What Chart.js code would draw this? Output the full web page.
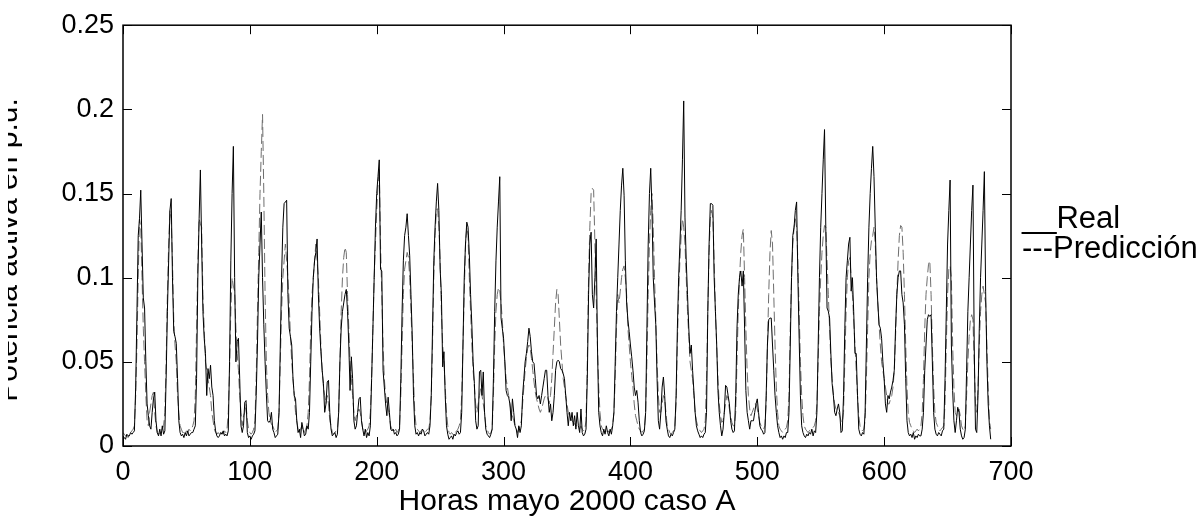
<!DOCTYPE html>
<html>
<head>
<meta charset="utf-8">
<script src="https://cdn.jsdelivr.net/npm/chart.js@4.4.1/dist/chart.umd.min.js"></script>
<style>
  html, body { margin: 0; padding: 0; background: #fff; }
  #wrap { width: 1203px; height: 521px; position: relative; }
</style>
</head>
<body>
<div id="wrap"><canvas id="chart"></canvas></div>
<script>
// Hourly values, May 2000, case A (hour 0 .. 684)
const realVals = [
  0.006, 0.005, 0.004, 0.007, 0.006, 0.006, 0.008, 0.007, 0.008, 0.009, // 0
  0.035, 0.08, 0.125, 0.135, 0.152, 0.12, 0.088, 0.082, 0.05, 0.025,
  0.018, 0.012, 0.01, 0.02, 0.028, 0.032, 0.015, 0.008, 0.006, 0.01,
  0.006, 0.012, 0.007, 0.009, 0.04, 0.08, 0.11, 0.14, 0.147, 0.1,
  0.068, 0.065, 0.061, 0.04, 0.015, 0.008, 0.006, 0.007, 0.005, 0.008,
  0.006, 0.009, 0.006, 0.007, 0.008, 0.008, 0.01, 0.012, 0.04, 0.1,
  0.135, 0.164, 0.12, 0.08, 0.064, 0.055, 0.03, 0.046, 0.04, 0.048,
  0.035, 0.03, 0.015, 0.009, 0.006, 0.005, 0.006, 0.008, 0.007, 0.009,
  0.006, 0.007, 0.006, 0.009, 0.05, 0.11, 0.15, 0.178, 0.1, 0.05,
  0.062, 0.064, 0.04, 0.012, 0.008, 0.012, 0.026, 0.027, 0.008, 0.005,
  0.006, 0.004, 0.006, 0.007, 0.009, 0.03, 0.06, 0.1, 0.12, 0.139, // 100
  0.1, 0.072, 0.05, 0.031, 0.015, 0.014, 0.015, 0.02, 0.01, 0.008,
  0.005, 0.006, 0.007, 0.02, 0.06, 0.1, 0.13, 0.144, 0.145, 0.146,
  0.09, 0.07, 0.065, 0.06, 0.04, 0.03, 0.028, 0.015, 0.008, 0.01,
  0.005, 0.014, 0.01, 0.006, 0.007, 0.012, 0.01, 0.02, 0.05, 0.08,
  0.1, 0.11, 0.115, 0.123, 0.09, 0.07, 0.056, 0.045, 0.037, 0.02,
  0.025, 0.038, 0.039, 0.02, 0.01, 0.006, 0.007, 0.008, 0.005, 0.007,
  0.02, 0.05, 0.07, 0.08, 0.085, 0.09, 0.093, 0.08, 0.06, 0.033,
  0.053, 0.04, 0.015, 0.01, 0.012, 0.02, 0.028, 0.029, 0.015, 0.01,
  0.006, 0.01, 0.005, 0.008, 0.006, 0.012, 0.04, 0.07, 0.1, 0.13,
  0.15, 0.16, 0.17, 0.105, 0.104, 0.045, 0.035, 0.025, 0.018, 0.029, // 200
  0.02, 0.01, 0.009, 0.01, 0.007, 0.008, 0.006, 0.007, 0.01, 0.04,
  0.08, 0.11, 0.125, 0.13, 0.138, 0.125, 0.113, 0.09, 0.066, 0.03,
  0.012, 0.007, 0.008, 0.006, 0.008, 0.007, 0.01, 0.009, 0.006, 0.007,
  0.008, 0.007, 0.012, 0.03, 0.07, 0.11, 0.13, 0.145, 0.156, 0.14,
  0.105, 0.09, 0.047, 0.056, 0.03, 0.012, 0.007, 0.004, 0.005, 0.006,
  0.004, 0.007, 0.006, 0.008, 0.009, 0.007, 0.008, 0.02, 0.06, 0.1,
  0.12, 0.133, 0.13, 0.114, 0.09, 0.072, 0.05, 0.037, 0.015, 0.01,
  0.012, 0.044, 0.045, 0.03, 0.044, 0.02, 0.01, 0.007, 0.006, 0.005,
  0.007, 0.01, 0.04, 0.08, 0.11, 0.13, 0.145, 0.16, 0.076, 0.07,
  0.064, 0.05, 0.033, 0.03, 0.029, 0.025, 0.015, 0.028, 0.02, 0.012, // 300
  0.01, 0.005, 0.012, 0.008, 0.012, 0.03, 0.04, 0.05, 0.055, 0.062,
  0.07, 0.065, 0.056, 0.05, 0.049, 0.04, 0.03, 0.028, 0.03, 0.025,
  0.03, 0.035, 0.04, 0.045, 0.045, 0.03, 0.02, 0.025, 0.015, 0.02,
  0.03, 0.045, 0.05, 0.051, 0.05, 0.046, 0.045, 0.043, 0.04, 0.03,
  0.02, 0.012, 0.02, 0.015, 0.02, 0.012, 0.018, 0.01, 0.02, 0.012,
  0.008, 0.022, 0.008, 0.006, 0.007, 0.01, 0.04, 0.09, 0.12, 0.127,
  0.09, 0.082, 0.1, 0.123, 0.06, 0.02, 0.012, 0.008, 0.006, 0.01,
  0.007, 0.012, 0.008, 0.006, 0.01, 0.007, 0.012, 0.02, 0.05, 0.08,
  0.1, 0.12, 0.14, 0.155, 0.165, 0.149, 0.11, 0.085, 0.075, 0.068,
  0.06, 0.053, 0.045, 0.035, 0.03, 0.033, 0.026, 0.015, 0.008, 0.006, // 400
  0.007, 0.009, 0.02, 0.07, 0.12, 0.15, 0.165, 0.14, 0.1, 0.085,
  0.072, 0.04, 0.015, 0.01, 0.02, 0.035, 0.041, 0.03, 0.015, 0.01,
  0.006, 0.005, 0.007, 0.006, 0.008, 0.01, 0.03, 0.07, 0.1, 0.12,
  0.14, 0.17, 0.205, 0.136, 0.11, 0.09, 0.07, 0.055, 0.06, 0.045,
  0.033, 0.02, 0.012, 0.009, 0.007, 0.005, 0.006, 0.005, 0.007, 0.008,
  0.02, 0.08, 0.12, 0.144, 0.144, 0.143, 0.1, 0.08, 0.06, 0.033,
  0.02, 0.012, 0.006, 0.01, 0.02, 0.036, 0.035, 0.03, 0.025, 0.015,
  0.01, 0.008, 0.009, 0.03, 0.07, 0.09, 0.1, 0.104, 0.095, 0.104,
  0.07, 0.033, 0.02, 0.015, 0.01, 0.015, 0.015, 0.015, 0.02, 0.025,
  0.028, 0.02, 0.012, 0.01, 0.009, 0.007, 0.008, 0.03, 0.06, 0.075, // 500
  0.076, 0.076, 0.06, 0.045, 0.03, 0.02, 0.012, 0.008, 0.005, 0.006,
  0.004, 0.006, 0.005, 0.008, 0.008, 0.02, 0.06, 0.1, 0.125, 0.13,
  0.14, 0.145, 0.1, 0.064, 0.03, 0.012, 0.008, 0.006, 0.005, 0.007,
  0.006, 0.008, 0.007, 0.01, 0.006, 0.009, 0.008, 0.02, 0.06, 0.1,
  0.13, 0.15, 0.17, 0.188, 0.13, 0.082, 0.08, 0.076, 0.055, 0.037,
  0.03, 0.02, 0.018, 0.022, 0.025, 0.02, 0.008, 0.009, 0.03, 0.07,
  0.1, 0.11, 0.12, 0.124, 0.092, 0.1, 0.08, 0.055, 0.055, 0.03,
  0.01, 0.007, 0.006, 0.008, 0.007, 0.02, 0.06, 0.1, 0.13, 0.15,
  0.165, 0.178, 0.16, 0.13, 0.1, 0.085, 0.072, 0.07, 0.064, 0.05,
  0.04, 0.025, 0.02, 0.03, 0.028, 0.032, 0.035, 0.039, 0.045, 0.07, // 600
  0.09, 0.1, 0.104, 0.104, 0.09, 0.085, 0.072, 0.04, 0.015, 0.008,
  0.006, 0.007, 0.005, 0.008, 0.004, 0.006, 0.005, 0.007, 0.006, 0.006,
  0.01, 0.02, 0.045, 0.06, 0.075, 0.078, 0.077, 0.078, 0.05, 0.02,
  0.01, 0.007, 0.006, 0.008, 0.007, 0.006, 0.009, 0.01, 0.04, 0.08,
  0.12, 0.14, 0.158, 0.06, 0.033, 0.015, 0.008, 0.015, 0.023, 0.02,
  0.01, 0.006, 0.004, 0.005, 0.01, 0.045, 0.08, 0.1, 0.12, 0.14,
  0.155, 0.06, 0.01, 0.008, 0.03, 0.07, 0.1, 0.12, 0.14, 0.163,
  0.092, 0.05, 0.025, 0.012, 0.004
];

const predVals = [
  0.008, 0.007, 0.006, 0.006, 0.005, 0.007, 0.008, 0.009, 0.01, 0.012, // 0
  0.03, 0.06, 0.1, 0.135, 0.13, 0.1, 0.07, 0.05, 0.03, 0.015,
  0.012, 0.02, 0.025, 0.03, 0.032, 0.02, 0.012, 0.008, 0.007, 0.008,
  0.009, 0.01, 0.012, 0.02, 0.05, 0.09, 0.12, 0.14, 0.135, 0.11,
  0.075, 0.06, 0.05, 0.03, 0.02, 0.012, 0.01, 0.008, 0.008, 0.007,
  0.009, 0.008, 0.01, 0.009, 0.01, 0.012, 0.015, 0.03, 0.07, 0.11,
  0.135, 0.132, 0.13, 0.09, 0.07, 0.05, 0.045, 0.04, 0.035, 0.03,
  0.02, 0.015, 0.01, 0.008, 0.007, 0.008, 0.007, 0.006, 0.008, 0.007,
  0.009, 0.008, 0.01, 0.02, 0.045, 0.08, 0.1, 0.095, 0.092, 0.07,
  0.055, 0.045, 0.03, 0.02, 0.012, 0.018, 0.02, 0.025, 0.015, 0.01,
  0.008, 0.007, 0.008, 0.01, 0.015, 0.04, 0.08, 0.115, 0.15, 0.175, // 100
  0.197, 0.15, 0.09, 0.05, 0.03, 0.02, 0.015, 0.013, 0.012, 0.01,
  0.008, 0.009, 0.01, 0.02, 0.05, 0.08, 0.1, 0.11, 0.12, 0.11,
  0.1, 0.085, 0.065, 0.05, 0.04, 0.03, 0.02, 0.015, 0.01, 0.008,
  0.01, 0.012, 0.009, 0.008, 0.01, 0.012, 0.02, 0.04, 0.07, 0.09,
  0.1, 0.11, 0.12, 0.11, 0.1, 0.08, 0.06, 0.045, 0.035, 0.03,
  0.025, 0.03, 0.025, 0.015, 0.012, 0.008, 0.007, 0.008, 0.009, 0.01,
  0.02, 0.05, 0.08, 0.1, 0.112, 0.118, 0.115, 0.09, 0.07, 0.05,
  0.04, 0.03, 0.02, 0.015, 0.018, 0.02, 0.022, 0.02, 0.015, 0.01,
  0.009, 0.008, 0.009, 0.01, 0.012, 0.02, 0.04, 0.07, 0.1, 0.12,
  0.14, 0.155, 0.165, 0.12, 0.09, 0.06, 0.04, 0.03, 0.025, 0.022, // 200
  0.018, 0.012, 0.01, 0.008, 0.009, 0.01, 0.008, 0.009, 0.012, 0.03,
  0.06, 0.09, 0.105, 0.11, 0.115, 0.112, 0.1, 0.08, 0.06, 0.04,
  0.02, 0.012, 0.01, 0.009, 0.008, 0.009, 0.01, 0.009, 0.008, 0.009,
  0.01, 0.01, 0.015, 0.03, 0.06, 0.1, 0.125, 0.14, 0.141, 0.13,
  0.11, 0.08, 0.06, 0.05, 0.035, 0.02, 0.012, 0.008, 0.007, 0.008,
  0.007, 0.006, 0.008, 0.009, 0.01, 0.012, 0.015, 0.03, 0.06, 0.09,
  0.12, 0.13, 0.125, 0.1, 0.08, 0.06, 0.045, 0.035, 0.025, 0.02,
  0.025, 0.03, 0.035, 0.03, 0.025, 0.02, 0.012, 0.01, 0.008, 0.007,
  0.008, 0.01, 0.03, 0.06, 0.08, 0.09, 0.094, 0.092, 0.085, 0.075,
  0.06, 0.05, 0.04, 0.035, 0.03, 0.025, 0.02, 0.018, 0.015, 0.012, // 300
  0.01, 0.008, 0.01, 0.012, 0.015, 0.025, 0.035, 0.045, 0.052, 0.058,
  0.06, 0.058, 0.052, 0.045, 0.038, 0.032, 0.028, 0.025, 0.022, 0.02,
  0.022, 0.025, 0.028, 0.03, 0.03, 0.028, 0.025, 0.03, 0.04, 0.055,
  0.07, 0.085, 0.093, 0.09, 0.075, 0.06, 0.05, 0.04, 0.035, 0.03,
  0.025, 0.02, 0.018, 0.016, 0.015, 0.014, 0.013, 0.012, 0.012, 0.011,
  0.01, 0.012, 0.01, 0.009, 0.01, 0.015, 0.05, 0.1, 0.13, 0.15,
  0.153, 0.152, 0.12, 0.09, 0.06, 0.035, 0.02, 0.012, 0.01, 0.009,
  0.008, 0.009, 0.01, 0.008, 0.009, 0.01, 0.012, 0.02, 0.04, 0.07,
  0.09, 0.085, 0.092, 0.1, 0.105, 0.107, 0.1, 0.09, 0.07, 0.06,
  0.05, 0.042, 0.035, 0.025, 0.018, 0.015, 0.012, 0.01, 0.009, 0.008, // 400
  0.009, 0.01, 0.02, 0.05, 0.09, 0.12, 0.14, 0.15, 0.13, 0.1,
  0.075, 0.05, 0.03, 0.02, 0.02, 0.025, 0.03, 0.028, 0.02, 0.012,
  0.01, 0.008, 0.007, 0.008, 0.009, 0.012, 0.025, 0.06, 0.09, 0.11,
  0.125, 0.135, 0.13, 0.12, 0.1, 0.08, 0.065, 0.05, 0.045, 0.04,
  0.03, 0.02, 0.015, 0.012, 0.01, 0.009, 0.008, 0.009, 0.01, 0.015,
  0.04, 0.08, 0.115, 0.135, 0.14, 0.135, 0.11, 0.08, 0.06, 0.04,
  0.025, 0.018, 0.014, 0.015, 0.02, 0.025, 0.03, 0.028, 0.022, 0.018,
  0.014, 0.012, 0.012, 0.02, 0.05, 0.08, 0.1, 0.115, 0.125, 0.129,
  0.1, 0.07, 0.045, 0.03, 0.022, 0.018, 0.02, 0.022, 0.025, 0.025,
  0.022, 0.018, 0.014, 0.012, 0.011, 0.01, 0.012, 0.025, 0.06, 0.09, // 500
  0.115, 0.128, 0.12, 0.09, 0.06, 0.035, 0.02, 0.012, 0.01, 0.009,
  0.008, 0.009, 0.01, 0.011, 0.015, 0.03, 0.07, 0.1, 0.12, 0.13,
  0.135, 0.13, 0.11, 0.08, 0.05, 0.03, 0.018, 0.012, 0.01, 0.009,
  0.008, 0.009, 0.01, 0.01, 0.011, 0.012, 0.015, 0.025, 0.05, 0.08,
  0.1, 0.115, 0.125, 0.131, 0.13, 0.11, 0.09, 0.07, 0.05, 0.04,
  0.03, 0.025, 0.022, 0.02, 0.02, 0.018, 0.015, 0.014, 0.02, 0.05,
  0.08, 0.1, 0.11, 0.112, 0.1, 0.09, 0.075, 0.06, 0.045, 0.03,
  0.018, 0.012, 0.01, 0.009, 0.01, 0.015, 0.04, 0.07, 0.1, 0.115,
  0.122, 0.125, 0.13, 0.12, 0.1, 0.085, 0.072, 0.06, 0.05, 0.045,
  0.04, 0.035, 0.03, 0.025, 0.025, 0.028, 0.03, 0.035, 0.045, 0.065, // 600
  0.09, 0.11, 0.125, 0.131, 0.13, 0.115, 0.09, 0.06, 0.035, 0.02,
  0.014, 0.012, 0.01, 0.009, 0.008, 0.009, 0.01, 0.009, 0.01, 0.012,
  0.02, 0.04, 0.07, 0.09, 0.1, 0.108, 0.11, 0.09, 0.06, 0.035,
  0.02, 0.014, 0.012, 0.01, 0.009, 0.01, 0.011, 0.012, 0.025, 0.06,
  0.09, 0.105, 0.107, 0.1, 0.06, 0.035, 0.02, 0.018, 0.02, 0.022,
  0.018, 0.012, 0.01, 0.009, 0.012, 0.03, 0.05, 0.065, 0.075, 0.078,
  0.075, 0.05, 0.025, 0.02, 0.035, 0.06, 0.08, 0.09, 0.095, 0.09,
  0.085, 0.06, 0.035, 0.015, 0.01
];

const seriesLabels = ['Real', 'Predicción'];
const legendPrefixes = ['__', '---'];
const xTicks = [0, 100, 200, 300, 400, 500, 600, 700];
const yTicks = [0, 0.05, 0.1, 0.15, 0.2, 0.25];
const yTickLabels = ['0', '0.05', '0.1', '0.15', '0.2', '0.25'];
const xTitle = 'Horas mayo 2000 caso A';
const yTitle = 'Potencia activa en p.u.';

const FONT = 'Liberation Sans, Arial, Helvetica, sans-serif';

/**
 * MATLAB-style box: frame, inward ticks on all four sides,
 * the text legend on the right and the clipped y title.
 */
const matlabFrame = {
    id: 'matlabFrame',
    afterDatasetsDraw(chart) {
        const { ctx, chartArea: a, scales: { x, y } } = chart;
        ctx.save();
        ctx.strokeStyle = '#000';
        ctx.lineWidth = 1.5;
        ctx.strokeRect(a.left, a.top, a.right - a.left, a.bottom - a.top);

        ctx.lineWidth = 1;
        ctx.beginPath();
        xTicks.forEach(v => {
            const px = Math.round(x.getPixelForValue(v)) + 0.5;
            ctx.moveTo(px, a.bottom); ctx.lineTo(px, a.bottom - 9);
            ctx.moveTo(px, a.top); ctx.lineTo(px, a.top + 9);
        });
        yTicks.forEach(v => {
            const py = Math.round(y.getPixelForValue(v)) + 0.5;
            ctx.moveTo(a.left, py); ctx.lineTo(a.left + 9, py);
            ctx.moveTo(a.right, py); ctx.lineTo(a.right - 9, py);
        });
        ctx.stroke();

        // text legend
        ctx.fillStyle = '#000';
        ctx.font = '31px ' + FONT;
        ctx.textAlign = 'left';
        ctx.textBaseline = 'alphabetic';
        seriesLabels.forEach((lab, i) => {
            ctx.fillText(legendPrefixes[i] + lab, a.right + 11, 228 + i * 30);
        });

        // y title, cut by the page edge like in the original export
        ctx.beginPath();
        ctx.rect(8, 0, 14, chart.height);
        ctx.clip();
        ctx.translate(17, 250);
        ctx.rotate(-Math.PI / 2);
        ctx.textAlign = 'center';
        ctx.font = '30px ' + FONT;
        ctx.fillText(yTitle, 0, 0);
        ctx.restore();
    }
};

const ctx = document.getElementById('chart').getContext('2d');
new Chart(ctx, {
    type: 'line',
    data: {
        datasets: [
            {
                label: seriesLabels[0],
                data: realVals.map((v, i) => ({ x: i, y: v })),
                borderColor: '#000',
                borderWidth: 1,
                pointRadius: 0,
                tension: 0,
                fill: false,
            },
            {
                label: seriesLabels[1],
                data: predVals.map((v, i) => ({ x: i, y: v })),
                borderColor: '#6e6e6e',
                borderWidth: 1,
                borderDash: [10, 4],
                pointRadius: 0,
                tension: 0,
                fill: false,
            }
        ]
    },
    options: {
        responsive: true,
        maintainAspectRatio: false,
        animation: false,
        events: [],
        layout: { padding: { left: 0, right: 192, top: 21, bottom: 0 } },
        plugins: {
            legend: { display: false },
            tooltip: { enabled: false },
        },
        scales: {
            x: {
                type: 'linear',
                min: 0,
                max: 700,
                afterBuildTicks: s => { s.ticks = xTicks.map(v => ({ value: v })); },
                afterFit: s => { s.height = 75; },
                grid: { display: false, drawTicks: false },
                border: { display: false },
                ticks: { color: '#000', font: { family: FONT, size: 27 }, padding: 10, maxRotation: 0 },
                title: { display: true, text: xTitle, color: '#000', font: { family: FONT, size: 30 }, padding: { top: 0, bottom: 1 } },
            },
            y: {
                type: 'linear',
                min: 0,
                max: 0.25,
                afterBuildTicks: s => { s.ticks = yTicks.map(v => ({ value: v })); },
                afterFit: s => { s.width = 123; },
                grid: { display: false, drawTicks: false },
                border: { display: false },
                ticks: {
                    color: '#000',
                    font: { family: FONT, size: 27 },
                    padding: 9,
                    callback: (v, i) => yTickLabels[i],
                },
            }
        }
    },
    plugins: [matlabFrame]
});
</script>
</body>
</html>
